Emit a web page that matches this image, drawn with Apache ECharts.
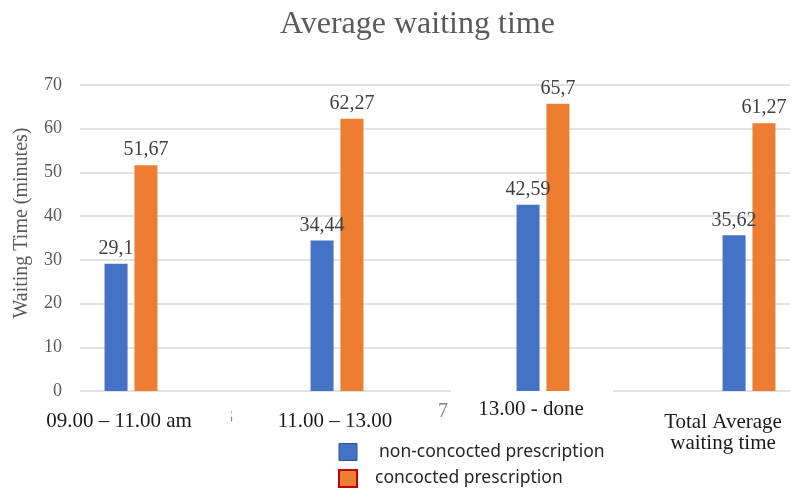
<!DOCTYPE html>
<html>
<head>
<meta charset="utf-8">
<script src="https://cdn.jsdelivr.net/npm/echarts@6/dist/echarts.min.js"></script>
<style>
html,body{margin:0;padding:0;background:#fff;}
#chart{width:792px;height:490px;}
</style>
</head>
<body>
<div id="chart"></div>
<script>
const titleText = 'Average waiting time';
const yAxisName = 'Waiting Time (minutes)';
const categories = ['09.00 – 11.00 am', '11.00 – 13.00', '13.00 - done', 'Total Average\nwaiting time'];
const seriesNames = ['non-concocted prescription', 'concocted prescription'];
const nonConcocted = [29.1, 34.44, 42.59, 35.62];
const concocted = [51.67, 62.27, 65.7, 61.27];
const yTicks = [0, 10, 20, 30, 40, 50, 60, 70];

const serif = '"Liberation Serif", "Times New Roman", serif';
const chart = echarts.init(document.getElementById('chart'), null, {renderer: 'canvas'});

// per-category label offsets (the reference labels are not all aligned)
const labelPads = [[12, 24, 0, 0], [12, 4, 0, 0], [0, 24, 0, 0], [13, 52, 0, 0]];

const option = {
  backgroundColor: '#ffffff',
  animation: false,
  title: {
    text: titleText,
    left: 280,
    top: 9,
    padding: 0,
    textStyle: {fontFamily: serif, fontSize: 32, fontWeight: 'normal', color: '#595959'}
  },
  legend: {
    orient: 'vertical',
    left: 338,
    top: 443,
    padding: 0,
    itemWidth: 18,
    itemHeight: 17,
    itemGap: 8,
    icon: 'rect',
    textStyle: {fontFamily: '"Noto Sans", sans-serif', fontSize: 17.5, color: '#262626', padding: [0, 0, 0, 13], lineHeight: 18},
    data: [
      {name: seriesNames[0], itemStyle: {borderColor: '#2F528F', borderWidth: 1}, textStyle: {padding: [0, 0, 0, 17]}},
      {name: seriesNames[1], itemStyle: {borderColor: '#C00000', borderWidth: 2}}
    ]
  },
  grid: [
    {left: 80, right: 2, top: 85, bottom: 99, outerBoundsMode: 'none'},
    {left: 131, right: 43, top: 85, bottom: 99, outerBoundsMode: 'none'}
  ],
  xAxis: [
    {gridIndex: 0, type: 'category', data: categories, show: false},
    {
      gridIndex: 1, type: 'category', boundaryGap: false,
      data: categories.map((c, i) => ({value: c, textStyle: {padding: labelPads[i]}})),
      axisLine: {show: false}, axisTick: {show: false}, splitLine: {show: false},
      axisLabel: {margin: 8, fontFamily: serif, fontSize: 21, color: '#1a1a1a', lineHeight: 21, interval: 0}
    }
  ],
  yAxis: [
    {
      gridIndex: 0, type: 'value', min: yTicks[0], max: yTicks[yTicks.length - 1], interval: 10,
      name: yAxisName, nameLocation: 'middle', nameRotate: 90, nameGap: 48,
      nameTextStyle: {fontFamily: serif, fontSize: 20, color: '#595959', padding: [0, 0, 0, 30]},
      axisLine: {show: false}, axisTick: {show: false},
      axisLabel: {margin: 18, fontFamily: serif, fontSize: 18, color: '#595959'},
      splitLine: {lineStyle: {color: '#d9d9d9', width: 1.5}}
    },
    {
      gridIndex: 1, type: 'value', min: yTicks[0], max: yTicks[yTicks.length - 1], interval: 10, show: false,
      splitLine: {show: false}
    }
  ],
  graphic: [
    {type: 'rect', z: 1, shape: {x: 451, y: 388, width: 162, height: 6}, style: {fill: '#ffffff'}},
    {type: 'text', z: 3, x: 443, y: 412, style: {text: '7', fontFamily: serif, fontSize: 20, fill: '#7f7f7f', align: 'center', verticalAlign: 'middle'}},
    {type: 'text', z: 3, x: 233, y: 418, style: {text: '3', fontFamily: serif, fontSize: 20, fill: '#7f7f7f', align: 'right', verticalAlign: 'middle'}},
    {type: 'rect', z: 4, shape: {x: 218, y: 405, width: 13, height: 26}, style: {fill: '#ffffff'}}
  ],
  series: [
    {
      name: seriesNames[0], type: 'bar', xAxisIndex: 1, yAxisIndex: 1, data: nonConcocted,
      barWidth: 23, barGap: '30%',
      itemStyle: {color: '#4472C4'},
      label: {show: true, position: 'top', distance: 5, fontFamily: serif, fontSize: 20, color: '#404040',
        formatter: p => String(p.value).replace('.', ',')}
    },
    {
      name: seriesNames[1], type: 'bar', xAxisIndex: 1, yAxisIndex: 1, data: concocted,
      barWidth: 23, barGap: '30%',
      itemStyle: {color: '#ED7D31'},
      label: {show: true, position: 'top', distance: 5, fontFamily: serif, fontSize: 20, color: '#404040',
        formatter: p => String(p.value).replace('.', ',')}
    }
  ]
};
chart.setOption(option);
</script>
</body>
</html>
